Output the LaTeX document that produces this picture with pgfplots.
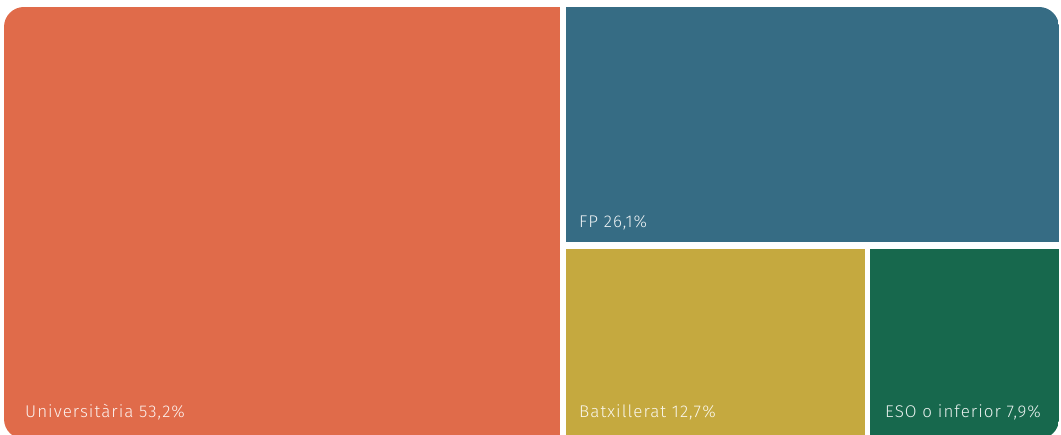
\documentclass[border=0pt]{standalone}
\usepackage{pgfplots}
\pgfplotsset{compat=1.18}
\usepackage{fontspec}
\setmainfont{Fira Sans Light}[LetterSpace=6]
\definecolor{cUni}{HTML}{E06B4A}
\definecolor{cFP}{HTML}{366C84}
\definecolor{cBat}{HTML}{C5A93F}
\definecolor{cESO}{HTML}{17684D}
\begin{document}
\begin{tikzpicture}
\useasboundingbox (0,0) rectangle (1061bp,435bp);
\clip[rounded corners=20bp] (4bp,-4bp) rectangle (1059bp,428bp);
\begin{axis}[
  at={(0,0)}, anchor=south west,
  scale only axis, width=1061bp, height=435bp,
  xmin=0, xmax=1061, ymin=0, ymax=435,
  hide axis, clip=false,
]
% treemap tiles: corners (x1,y1) (x2,y1) (x2,y2) (x1,y2)
\addplot[fill=cUni, draw=none] coordinates {(4,-4) (559.5,-4) (559.5,428) (4,428)};
\addplot[fill=cFP, draw=none] coordinates {(565.5,192.5) (1059,192.5) (1059,428) (565.5,428)};
\addplot[fill=cBat, draw=none] coordinates {(565.5,-4) (864.5,-4) (864.5,186) (565.5,186)};
\addplot[fill=cESO, draw=none] coordinates {(869.5,-4) (1059,-4) (1059,186) (869.5,186)};
\node[anchor=base west, inner sep=0pt, text=white, text opacity=0.9, font=\fontsize{17bp}{20bp}\selectfont] at (axis cs:25,18) {Universitària 53,2\%};
\node[anchor=base west, inner sep=0pt, text=white, text opacity=0.9, font=\fontsize{17bp}{20bp}\selectfont] at (axis cs:579,207) {FP 26,1\%};
\node[anchor=base west, inner sep=0pt, text=white, text opacity=0.9, font=\fontsize{17bp}{20bp}\selectfont] at (axis cs:579,18) {Batxillerat 12,7\%};
\node[anchor=base west, inner sep=0pt, text=white, text opacity=0.9, font=\fontsize{17bp}{20bp}\selectfont] at (axis cs:885,18) {ESO o inferior 7,9\%};
\end{axis}
\end{tikzpicture}
\end{document}
